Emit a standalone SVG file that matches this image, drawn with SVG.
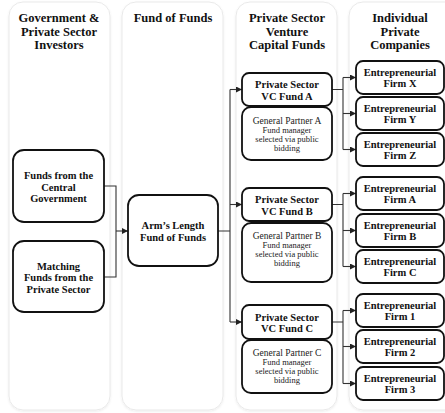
<svg xmlns="http://www.w3.org/2000/svg" width="445" height="413" viewBox="0 0 445 413">
<style>
.panel{fill:#ffffff;stroke:#e9e9e9;stroke-width:1}
.box{fill:#ffffff;stroke:#111111;stroke-width:1.8}
text{font-family:'Liberation Serif','Times New Roman',Times,serif}
.hd{font-weight:bold;font-size:12.5px;fill:#111111;text-anchor:middle}
.bt{font-weight:bold;font-size:10.5px;fill:#111111;text-anchor:middle}
.gp{font-size:8.5px;fill:#222222;text-anchor:middle}
.gp1{font-size:9.5px}
.con{fill:none;stroke:#333333;stroke-width:1.1}
</style>
<defs>
<marker id="arr" markerUnits="userSpaceOnUse" markerWidth="6" markerHeight="6" refX="6" refY="3" orient="auto">
<path d="M0,0 L6,3 L0,6 z" fill="#222222"/>
</marker>
<filter id="sh" x="-10%" y="-5%" width="120%" height="110%">
<feDropShadow dx="0" dy="1" stdDeviation="1" flood-color="#000000" flood-opacity="0.08"/>
</filter>
</defs>
<rect width="445" height="413" fill="#ffffff"/>
<g id="panels" filter="url(#sh)">
<rect class="panel" x="9" y="2" width="101" height="408" rx="14"/>
<rect class="panel" x="122" y="2" width="101" height="408" rx="14"/>
<rect class="panel" x="236" y="2" width="101" height="408" rx="14"/>
<rect class="panel" x="349" y="2" width="110" height="408" rx="14"/>
</g>
<g id="headers" font-family="Liberation Serif, serif">
<text class="hd" x="59" y="22">Government &amp;</text>
<text class="hd" x="59" y="35.5">Private Sector</text>
<text class="hd" x="59" y="49">Investors</text>
<text class="hd" x="173" y="22">Fund of Funds</text>
<text class="hd" x="287" y="22">Private Sector</text>
<text class="hd" x="287" y="35.5">Venture</text>
<text class="hd" x="287" y="49">Capital Funds</text>
<text class="hd" x="400" y="22">Individual</text>
<text class="hd" x="400" y="35.5">Private</text>
<text class="hd" x="400" y="49">Companies</text>
</g>
<g id="connectors">
<path class="con" d="M104,186 H116 V277 H104"/>
<path class="con" d="M116,231 H128" marker-end="url(#arr)"/>
<path class="con" d="M218,231 H230 M230,89.5 V322"/>
<path class="con" d="M230,89.5 H242" marker-end="url(#arr)"/>
<path class="con" d="M230,204.5 H242" marker-end="url(#arr)"/>
<path class="con" d="M230,322 H242" marker-end="url(#arr)"/>
<path class="con" d="M332,89.5 H343 M343,77.5 V149.5"/>
<path class="con" d="M343,77.5 H356" marker-end="url(#arr)"/>
<path class="con" d="M343,113.5 H356" marker-end="url(#arr)"/>
<path class="con" d="M343,149.5 H356" marker-end="url(#arr)"/>
<path class="con" d="M332,204.5 H343 M343,193.5 V266.5"/>
<path class="con" d="M343,193.5 H356" marker-end="url(#arr)"/>
<path class="con" d="M343,230.5 H356" marker-end="url(#arr)"/>
<path class="con" d="M343,266.5 H356" marker-end="url(#arr)"/>
<path class="con" d="M332,322 H343 M343,310.5 V383.5"/>
<path class="con" d="M343,310.5 H356" marker-end="url(#arr)"/>
<path class="con" d="M343,346.5 H356" marker-end="url(#arr)"/>
<path class="con" d="M343,383.5 H356" marker-end="url(#arr)"/>
</g>
<g id="gov">
<rect class="box" x="13" y="150" width="91" height="72" rx="11"/>
<text class="bt" x="58.5" y="179">Funds from the</text>
<text class="bt" x="58.5" y="190.5">Central</text>
<text class="bt" x="58.5" y="202">Government</text>
</g>
<g id="matching">
<rect class="box" x="13" y="241" width="91" height="71" rx="11"/>
<text class="bt" x="58.5" y="269.5">Matching</text>
<text class="bt" x="58.5" y="281">Funds from the</text>
<text class="bt" x="58.5" y="292.5">Private Sector</text>
</g>
<g id="arms">
<rect class="box" x="128" y="195" width="90" height="71" rx="11"/>
<text class="bt" x="173" y="229">Arm’s Length</text>
<text class="bt" x="173" y="240.5">Fund of Funds</text>
</g>
<g id="fundA">
<rect class="box" x="242" y="73" width="90" height="33" rx="7"/>
<text class="bt" x="287" y="88">Private Sector</text>
<text class="bt" x="287" y="99.5">VC Fund A</text>
</g>
<g id="gpA">
<rect class="box" x="242" y="107" width="90" height="53" rx="9"/>
<text class="gp gp1" x="287" y="124">General Partner A</text>
<text class="gp" x="287" y="133">Fund manager</text>
<text class="gp" x="287" y="142">selected via public</text>
<text class="gp" x="287" y="151">bidding</text>
</g>
<g id="fundB">
<rect class="box" x="242" y="188" width="90" height="33" rx="7"/>
<text class="bt" x="287" y="203">Private Sector</text>
<text class="bt" x="287" y="214.5">VC Fund B</text>
</g>
<g id="gpB">
<rect class="box" x="242" y="223" width="90" height="59" rx="9"/>
<text class="gp gp1" x="287" y="239">General Partner B</text>
<text class="gp" x="287" y="248">Fund manager</text>
<text class="gp" x="287" y="257">selected via public</text>
<text class="gp" x="287" y="266">bidding</text>
</g>
<g id="fundC">
<rect class="box" x="242" y="305" width="90" height="34" rx="7"/>
<text class="bt" x="287" y="320.5">Private Sector</text>
<text class="bt" x="287" y="332">VC Fund C</text>
</g>
<g id="gpC">
<rect class="box" x="242" y="340" width="90" height="53" rx="9"/>
<text class="gp gp1" x="287" y="356">General Partner C</text>
<text class="gp" x="287" y="365">Fund manager</text>
<text class="gp" x="287" y="374">selected via public</text>
<text class="gp" x="287" y="383">bidding</text>
</g>
<g id="firmX"><rect class="box" x="356" y="61" width="88" height="33" rx="7"/><text class="bt" x="400" y="75.5">Entrepreneurial</text><text class="bt" x="400" y="87">Firm X</text></g>
<g id="firmY"><rect class="box" x="356" y="97" width="88" height="33" rx="7"/><text class="bt" x="400" y="111.5">Entrepreneurial</text><text class="bt" x="400" y="123">Firm Y</text></g>
<g id="firmZ"><rect class="box" x="356" y="133" width="88" height="33" rx="7"/><text class="bt" x="400" y="147.5">Entrepreneurial</text><text class="bt" x="400" y="159">Firm Z</text></g>
<g id="firmA"><rect class="box" x="356" y="177" width="88" height="33" rx="7"/><text class="bt" x="400" y="191.5">Entrepreneurial</text><text class="bt" x="400" y="203">Firm A</text></g>
<g id="firmB"><rect class="box" x="356" y="214" width="88" height="33" rx="7"/><text class="bt" x="400" y="228.5">Entrepreneurial</text><text class="bt" x="400" y="240">Firm B</text></g>
<g id="firmC"><rect class="box" x="356" y="250" width="88" height="33" rx="7"/><text class="bt" x="400" y="264.5">Entrepreneurial</text><text class="bt" x="400" y="276">Firm C</text></g>
<g id="firm1"><rect class="box" x="356" y="294" width="88" height="33" rx="7"/><text class="bt" x="400" y="308.5">Entrepreneurial</text><text class="bt" x="400" y="320">Firm 1</text></g>
<g id="firm2"><rect class="box" x="356" y="330" width="88" height="33" rx="7"/><text class="bt" x="400" y="344.5">Entrepreneurial</text><text class="bt" x="400" y="356">Firm 2</text></g>
<g id="firm3"><rect class="box" x="356" y="367" width="88" height="33" rx="7"/><text class="bt" x="400" y="381.5">Entrepreneurial</text><text class="bt" x="400" y="393">Firm 3</text></g>
</svg>
